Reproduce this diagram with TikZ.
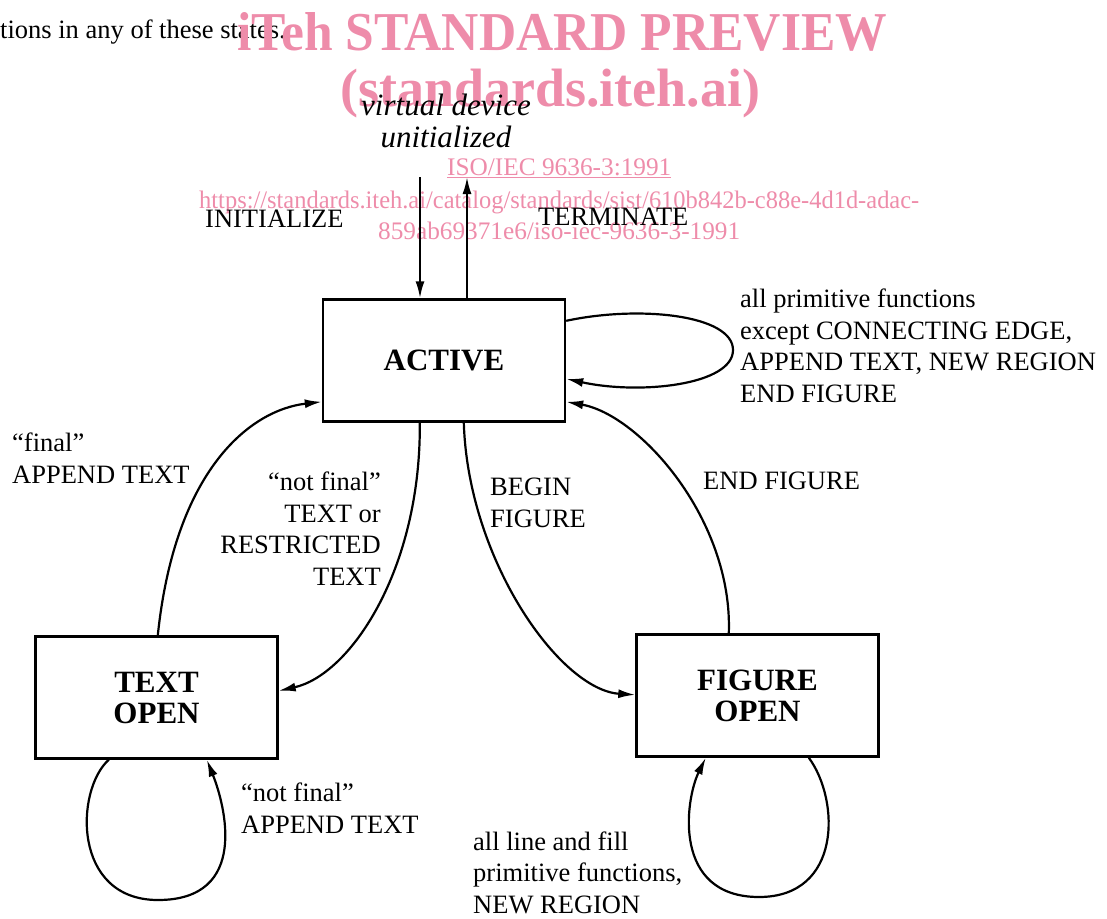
\documentclass[tikz,border=0pt]{standalone}
\usepackage{fontspec}
\setmainfont{Liberation Serif}
\usetikzlibrary{arrows.meta,calc}
\definecolor{wm}{RGB}{238,140,170}
\begin{document}
\begin{tikzpicture}[x=1pt,y=-1pt,
  state/.style={draw,line width=2.4pt,minimum width=242pt,minimum height=122pt,inner sep=0pt,align=center,font=\fontsize{31}{31}\selectfont\bfseries},
  lbl/.style={inner sep=0pt,font=\fontsize{26.5}{31.5}\selectfont},
  conn/.style={line width=2.2pt,-{Latex[length=17pt,width=9pt]}},
  wmark/.style={inner sep=0pt,text=wm}]
\useasboundingbox (0,0) rectangle (1107,918);

% text above the figure
\node[lbl,anchor=base west] (intro) at (0,38) {tions in any of these states.};

% watermark
\node[wmark,anchor=base west] (wm1) at (237,50) {\resizebox{650pt}{38pt}{\fontsize{57}{57}\selectfont\bfseries iTeh STANDARD PREVIEW}};
\node[wmark,anchor=base west] (wm2) at (340,106) {\resizebox{420pt}{!}{\fontsize{54}{54}\selectfont\bfseries (standards.iteh.ai)}};
\node[wmark,anchor=base west] (wm3) at (447,175) {\fontsize{25.3}{25}\selectfont\underline{ISO/IEC 9636-3:1991}};
\node[wmark,anchor=base west] (wm4) at (199,208) {\resizebox{720pt}{17.5pt}{\fontsize{25}{25}\selectfont https://standards.iteh.ai/catalog/standards/sist/610b842b-c88e-4d1d-adac-}};
\node[wmark,anchor=base west] (wm5) at (378,239) {\resizebox{362pt}{17.5pt}{\fontsize{25}{25}\selectfont 859ab69371e6/iso-iec-9636-3-1991}};

% states
\node[state] (active) at (444,360.5) {ACTIVE};
\node[state] (textopen) at (156.5,697.5) {TEXT\\OPEN};
\node[state] (figopen) at (757.5,695.5) {FIGURE\\OPEN};

% top
\node[lbl,anchor=base,align=center,font=\fontsize{31}{32}\selectfont\itshape] (virt) at (446,147) {virtual device\\unitialized};
\coordinate (initstart) at (420,177);
\coordinate (termend) at (467,177);
\draw[conn] (initstart) -- (initstart |- active.north);
\draw[conn] (termend |- active.north) -- (termend);
\node[lbl,anchor=base west] (linit) at (205,227) {INITIALIZE};
\node[lbl,anchor=base west] (lterm) at (538,225) {TERMINATE};

% ACTIVE self loop
\draw[conn] ($(active.north east)+(0,22.5)$) .. controls (640,305) and (733,315) .. (733,350)
  .. controls (733,385) and (640,395) .. ($(active.north east)+(0,80.5)$);
\node[lbl,anchor=base west,align=left] (lall) at (740,402) {all primitive functions\\except CONNECTING EDGE,\\APPEND TEXT, NEW REGION\\END FIGURE};

% END FIGURE
\draw[conn] ($(figopen.north west)+(93.5,0)$) .. controls (733,520) and (640,415) .. ($(active.north east)+(0,103.5)$);
\node[lbl,anchor=base west] (lend) at (703,489) {END FIGURE};

% BEGIN FIGURE
\draw[conn] ($(active.south west)+(142,0)$) .. controls (468,560) and (560,690) .. ($(figopen.north west)+(0,61.5)$);
\node[lbl,anchor=base west,align=left] (lbegin) at (490,527) {BEGIN\\FIGURE};

% not final TEXT
\draw[conn] ($(active.south west)+(98,0)$) .. controls (421,570) and (350,675) .. ($(textopen.north east)+(0,55.5)$);
\node[lbl,anchor=base east,align=right] (lnotfinal) at (381,585) {“not final”\\TEXT or\\RESTRICTED\\TEXT};

% final APPEND TEXT
\draw[conn] ($(textopen.north west)+(123.5,0)$) .. controls (175,470) and (250,410) .. ($(active.north west)+(0,103.5)$);
\node[lbl,anchor=base west,align=left] (lfinal) at (12,483) {“final”\\APPEND TEXT};

% TEXT OPEN loop
\draw[conn] ($(textopen.south west)+(74.5,0)$) .. controls (75,790) and (72,900) .. (158,900)
  .. controls (250,900) and (225,805) .. ($(textopen.south west)+(172.5,0)$);
\node[lbl,anchor=base west,align=left] (lappend) at (241,833) {“not final”\\APPEND TEXT};

% FIGURE OPEN loop
\draw[conn] ($(figopen.south west)+(173.5,0)$) .. controls (840,800) and (842,897) .. (759,897)
  .. controls (672,897) and (685,800) .. ($(figopen.south west)+(70.5,0)$);
\node[lbl,anchor=base west,align=left] (lline) at (473,913) {all line and fill\\primitive functions,\\NEW REGION};
\end{tikzpicture}
\end{document}
